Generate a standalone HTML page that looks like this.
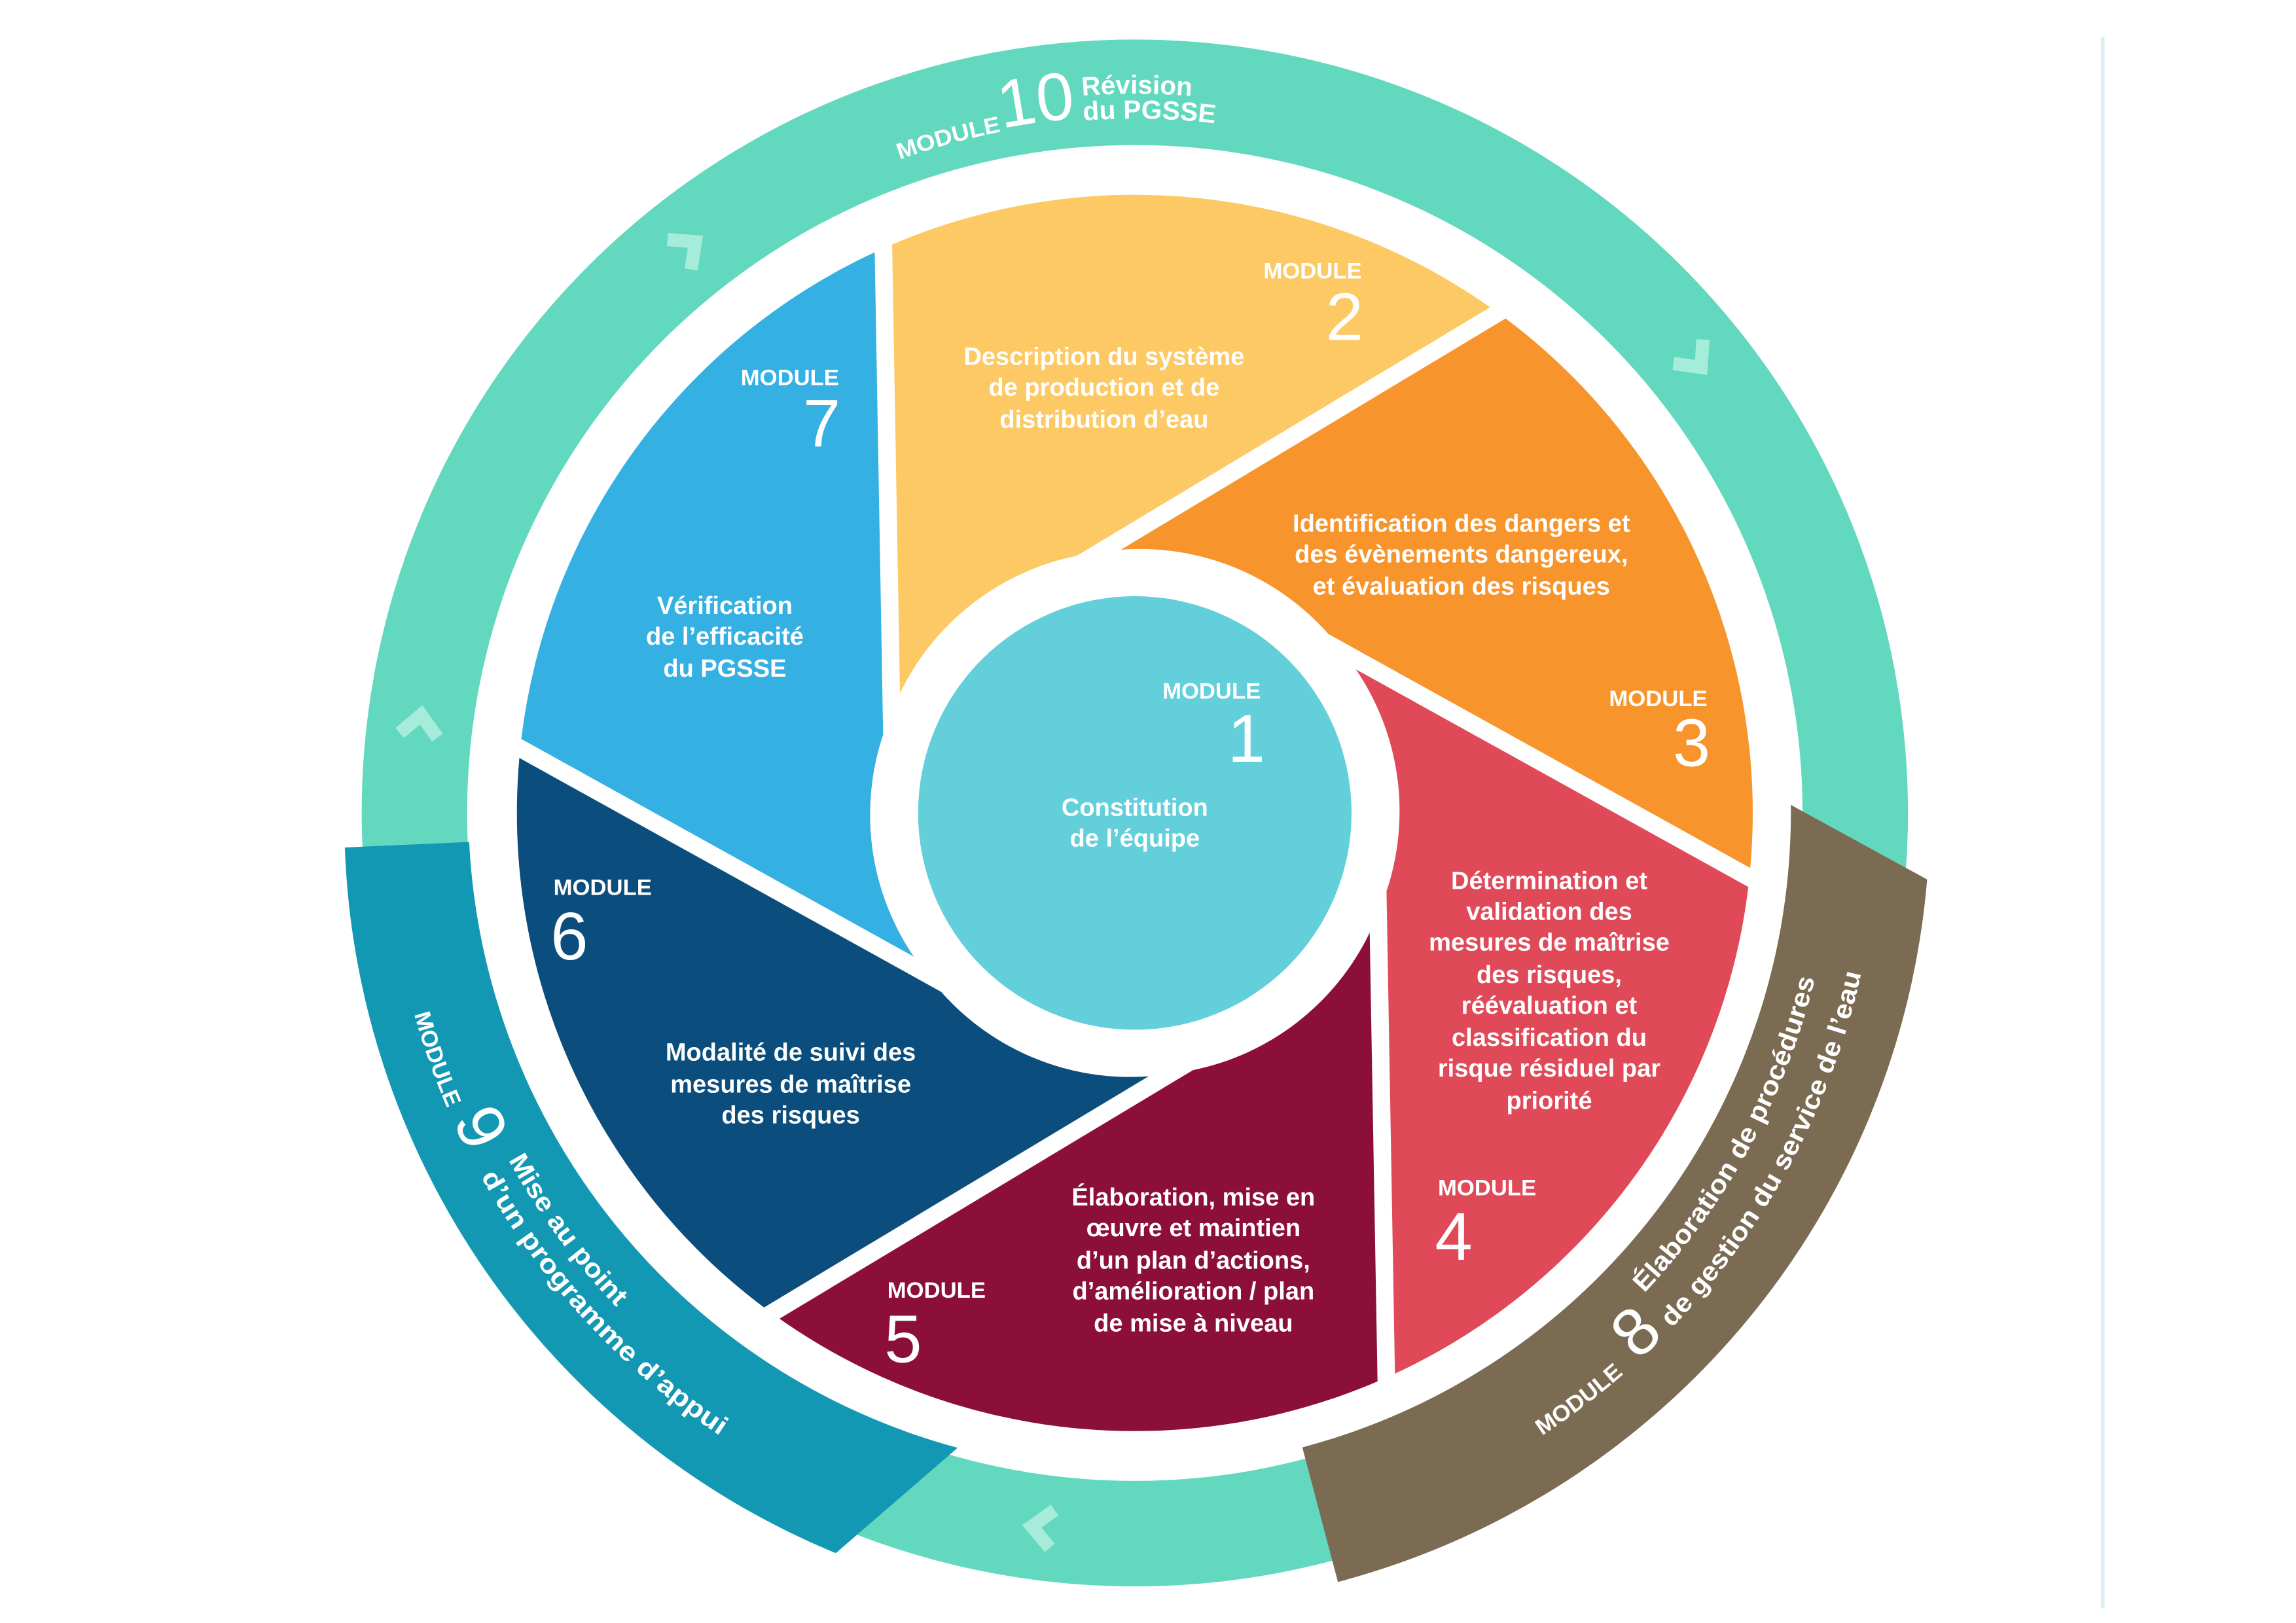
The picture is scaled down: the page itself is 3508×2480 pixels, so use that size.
<!DOCTYPE html>
<html><head><meta charset="utf-8">
<style>
html,body{margin:0;padding:0;background:#fff;}
svg{display:block;}
text{font-family:"Liberation Sans",sans-serif;fill:#fff;}
.b{font-weight:bold;font-size:17px;}
.m{font-weight:bold;font-size:15.5px;}
.n{font-size:46px;}
</style></head>
<body>
<svg width="3508" height="2480" viewBox="0 0 1568 1108" preserveAspectRatio="none" xmlns="http://www.w3.org/2000/svg">
<defs>
<path id="blade" d="M614.6 473.3 L609.25 166.9 A422 422 0 0 1 1017.68 209.77 L735.33 379.42 A172 172 0 0 0 614.6 473.3 Z"/>
<path id="p474" d="M538 144.5 A474 474 0 0 1 1012 144.5"/>
<path id="p476" d="M537 142.8 A476 476 0 0 1 1013 142.8"/>
<path id="p491" d="M529.5 129.8 A491 491 0 0 1 1020.5 129.8"/>
<path id="q511" d="M271.8 643.7 A511 511 0 0 0 686.3 1058.2"/>
<path id="q489" d="M293.4 639.9 A489 489 0 0 0 690.1 1036.6"/>
<path id="r508" d="M948.7 1032.4 A508 508 0 0 0 1283 555"/>
<path id="r478" d="M938.5 1004.2 A478 478 0 0 0 1253 555"/>
</defs>

<rect x="0" y="0" width="1568" height="1108" fill="#fff"/>
<line x1="1436" y1="25" x2="1436" y2="1098" stroke="#DCEFF7" stroke-width="2.5"/>

<circle cx="775" cy="555" r="492" fill="none" stroke="#62D8BF" stroke-width="72"/>

<g fill="none" stroke="#A6ECDB" stroke-width="9">
<polyline points="-7,-13 7,0 -7,13" transform="translate(469.4,169.4) rotate(321.6)"/>
<polyline points="-7,-13 7,0 -7,13" transform="translate(1157.3,245.4) rotate(51)"/>
<polyline points="-7,-13 7,0 -7,13" transform="translate(286.7,495) rotate(277)"/>
<polyline points="-7,-13 7,0 -7,13" transform="translate(711.6,1042.9) rotate(187.4)"/>
</g>

<use href="#blade" fill="#FDC965"/>
<use href="#blade" fill="#F7942C" transform="rotate(60 775 555)"/>
<use href="#blade" fill="#E04A58" transform="rotate(120 775 555)"/>
<use href="#blade" fill="#8C0F3A" transform="rotate(180 775 555)"/>
<use href="#blade" fill="#0B4E7D" transform="rotate(240 775 555)"/>
<use href="#blade" fill="#35B0E3" transform="rotate(300 775 555)"/>

<circle cx="775" cy="555" r="148" fill="#63CFDA"/>

<path d="M235.5 578.6 A542 542 0 0 0 570.8 1060.3 L654 988.4 A452 452 0 0 1 320.4 574.8 Z" fill="#1398B4"/>
<path d="M1316.1 600.4 A543 543 0 0 1 913.7 1080 L889.4 988.1 A448 448 0 0 0 1223 549.5 Z" fill="#7B6B53"/>

<text class="m"><textPath href="#p474" startOffset="84.4" textLength="72" lengthAdjust="spacingAndGlyphs">MODULE</textPath></text>
<text style="font-size:46px"><textPath href="#p476" startOffset="157.8">10</textPath></text>
<text class="b" style="font-size:18px"><textPath href="#p491" startOffset="221" textLength="75" lengthAdjust="spacingAndGlyphs">Révision</textPath></text>
<text class="b" style="font-size:18px"><textPath href="#p474" startOffset="213" textLength="90" lengthAdjust="spacingAndGlyphs">du PGSSE</textPath></text>

<text class="m"><textPath href="#q511" startOffset="50" textLength="68" lengthAdjust="spacingAndGlyphs">MODULE</textPath></text>
<text style="font-size:46px"><textPath href="#q511" startOffset="127">9</textPath></text>
<text class="b" style="font-size:18px"><textPath href="#q489" startOffset="162" textLength="125" lengthAdjust="spacingAndGlyphs">Mise au point</textPath></text>
<text class="b" style="font-size:18px"><textPath href="#q511" startOffset="170" textLength="243" lengthAdjust="spacingAndGlyphs">d’un programme d’appui</textPath></text>

<text class="m"><textPath href="#r508" startOffset="117" textLength="70" lengthAdjust="spacingAndGlyphs">MODULE</textPath></text>
<text style="font-size:46px"><textPath href="#r508" startOffset="200">8</textPath></text>
<text class="b" style="font-size:18px"><textPath href="#r478" startOffset="222.7" textLength="247" lengthAdjust="spacingAndGlyphs">Élaboration de procédures</textPath></text>
<text class="b" style="font-size:18px"><textPath href="#r508" startOffset="232.3" textLength="278" lengthAdjust="spacingAndGlyphs">de gestion du service de l’eau</textPath></text>

<g class="m">
<text x="930" y="190" text-anchor="end" class="m">MODULE</text>
<text x="573" y="263" text-anchor="end" class="m">MODULE</text>
<text x="861" y="477" text-anchor="end" class="m">MODULE</text>
<text x="1166" y="482" text-anchor="end" class="m">MODULE</text>
<text x="378" y="611" class="m">MODULE</text>
<text x="982" y="816" class="m">MODULE</text>
<text x="606" y="886" class="m">MODULE</text>
</g>
<text x="931" y="232" text-anchor="end" class="n">2</text>
<text x="574" y="305" text-anchor="end" class="n">7</text>
<text x="864" y="520" text-anchor="end" class="n">1</text>
<text x="1168" y="523" text-anchor="end" class="n">3</text>
<text x="376" y="655" class="n">6</text>
<text x="980" y="860" class="n">4</text>
<text x="604" y="930" class="n">5</text>

<g class="b" text-anchor="middle">
<text x="754" y="249">Description du système</text>
<text x="754" y="270">de production et de</text>
<text x="754" y="292">distribution d’eau</text>

<text x="998" y="363">Identification des dangers et</text>
<text x="998" y="384">des évènements dangereux,</text>
<text x="998" y="406">et évaluation des risques</text>

<text x="1058" y="607">Détermination et</text>
<text x="1058" y="628">validation des</text>
<text x="1058" y="649">mesures de maîtrise</text>
<text x="1058" y="671">des risques,</text>
<text x="1058" y="692">réévaluation et</text>
<text x="1058" y="714">classification du</text>
<text x="1058" y="735">risque résiduel par</text>
<text x="1058" y="757">priorité</text>

<text x="815" y="823">Élaboration, mise en</text>
<text x="815" y="844">œuvre et maintien</text>
<text x="815" y="866">d’un plan d’actions,</text>
<text x="815" y="887">d’amélioration / plan</text>
<text x="815" y="909">de mise à niveau</text>

<text x="540" y="724">Modalité de suivi des</text>
<text x="540" y="746">mesures de maîtrise</text>
<text x="540" y="767">des risques</text>

<text x="495" y="419">Vérification</text>
<text x="495" y="440">de l’efficacité</text>
<text x="495" y="462">du PGSSE</text>

<text x="775" y="557">Constitution</text>
<text x="775" y="578">de l’équipe</text>
</g>
</svg>
</body></html>
